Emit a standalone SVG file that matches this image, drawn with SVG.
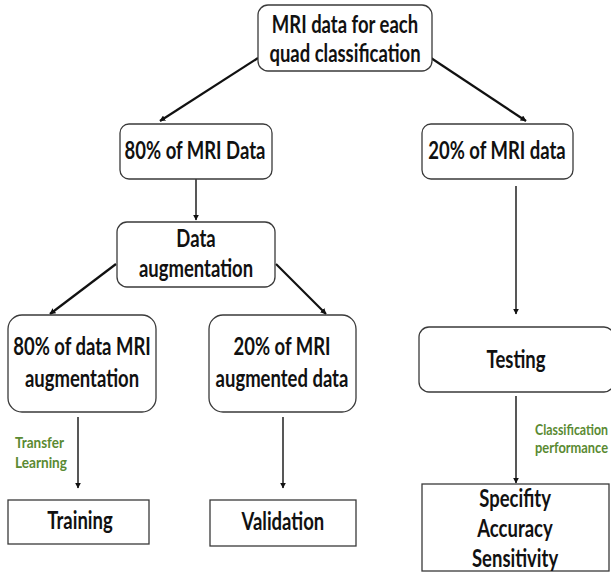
<svg xmlns="http://www.w3.org/2000/svg" width="611" height="572" viewBox="0 0 611 572">
  <style>
    .box { fill: #ffffff; stroke: #3a3a3a; stroke-width: 1.3; }
    .lbl { font-family: Lato, "Open Sans", sans-serif; font-weight: bold; font-size: 24px; fill: #111111; text-anchor: middle;
           transform-box: fill-box; transform-origin: center; transform: scaleX(0.77); }
    .note { font-family: Lato, "Open Sans", sans-serif; font-weight: bold; font-size: 16px; fill: #5a8a32; }
  </style>
  <style>
    .edge { fill: none; stroke: #111111; stroke-width: 1.4; marker-end: url(#arrow); }
    .thick { stroke-width: 2.2; }
  </style>
  <defs>
    <marker id="arrow" viewBox="0 0 10 10" refX="9" refY="5" markerWidth="6" markerHeight="6" markerUnits="userSpaceOnUse" orient="auto">
      <path d="M0,0 L10,5 L0,10 z" fill="#111111"/>
    </marker>
  </defs>
  <rect width="611" height="572" fill="#ffffff"/>

  <g id="connectors">
    <path class="edge thick" d="M258,58 L160,121"/>
    <path class="edge thick" d="M431,58 L526,121"/>
    <path class="edge" d="M196,179 L196,220"/>
    <path class="edge thick" d="M116,264 L50,314"/>
    <path class="edge thick" d="M276,264 L326,314"/>
    <path class="edge" d="M78,417 L78,488"/>
    <path class="edge" d="M283,417 L283,488"/>
    <path class="edge" d="M516,186 L516,314"/>
    <path class="edge" d="M516,396 L516,483"/>
  </g>

  <g id="mri-data">
    <rect class="box" x="258" y="5" width="174" height="66" rx="10"/>
    <text class="lbl" x="345" y="33">MRI data for each</text>
    <text class="lbl" x="345" y="62">quad classification</text>
  </g>

  <g id="train-split">
    <rect class="box" x="120" y="124" width="152" height="55" rx="9"/>
    <text class="lbl" x="195" y="159">80% of MRI Data</text>
  </g>

  <g id="test-split">
    <rect class="box" x="422" y="124" width="151" height="55" rx="9"/>
    <text class="lbl" x="497" y="159">20% of MRI data</text>
  </g>

  <g id="augmentation">
    <rect class="box" x="117" y="222" width="158" height="65" rx="10"/>
    <text class="lbl" x="196" y="247">Data</text>
    <text class="lbl" x="196" y="277">augmentation</text>
  </g>

  <g id="aug-train">
    <rect class="box" x="8" y="315" width="148" height="97" rx="14"/>
    <text class="lbl" x="82" y="355">80% of data MRI</text>
    <text class="lbl" x="82" y="387">augmentation</text>
  </g>

  <g id="aug-val">
    <rect class="box" x="209" y="315" width="147" height="97" rx="14"/>
    <text class="lbl" x="282" y="355">20% of MRI</text>
    <text class="lbl" x="282" y="387">augmented data</text>
  </g>

  <g id="transfer-note">
    <text class="note" x="15" y="448" textLength="49" lengthAdjust="spacingAndGlyphs">Transfer</text>
    <text class="note" x="15" y="468" textLength="52" lengthAdjust="spacingAndGlyphs">Learning</text>
  </g>

  <g id="training">
    <rect class="box" x="8" y="500" width="141" height="44"/>
    <text class="lbl" x="80" y="529">Training</text>
  </g>

  <g id="validation">
    <rect class="box" x="210" y="500" width="146" height="46"/>
    <text class="lbl" x="283" y="530">Validation</text>
  </g>

  <g id="testing">
    <rect class="box" x="419" y="327" width="195" height="65" rx="10"/>
    <text class="lbl" x="516" y="368">Testing</text>
  </g>

  <g id="classification-note">
    <text class="note" x="535" y="435" textLength="73" lengthAdjust="spacingAndGlyphs">Classification</text>
    <text class="note" x="535" y="453" textLength="73" lengthAdjust="spacingAndGlyphs">performance</text>
  </g>

  <g id="metrics">
    <rect class="box" x="422" y="484" width="187" height="87"/>
    <text class="lbl" x="515" y="507">Specifity</text>
    <text class="lbl" x="515" y="537">Accuracy</text>
    <text class="lbl" x="515" y="567">Sensitivity</text>
  </g>
</svg>
